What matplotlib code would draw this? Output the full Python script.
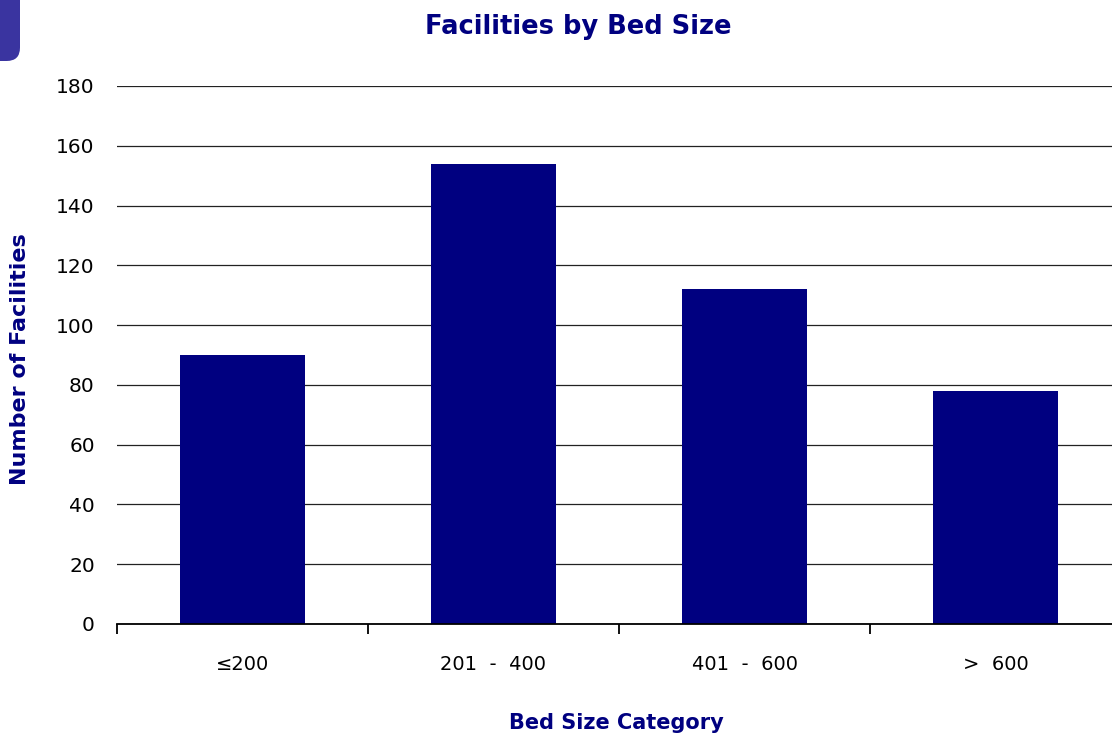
"""
Facilities by bed size: simple bar chart with navy bars.
"""

import matplotlib
matplotlib.use('Agg')
import matplotlib.pyplot as plt
from matplotlib.patches import FancyBboxPatch
from matplotlib.ticker import MultipleLocator, FixedLocator

CATEGORIES = ['\u2264200', '201  -  400', '401  -  600', '>  600']
FACILITIES = [90, 154, 112, 78]
Y_TICKS = list(range(0, 181, 20))
NAVY = '#000080'


def main():
    plt.rcParams['font.family'] = ['DejaVu Sans']
    fig = plt.figure(figsize=(11.12, 7.38), dpi=100)
    ax = fig.add_axes([117 / 1112, 0.1545, 1004 / 1112, 0.729])

    x = list(range(len(CATEGORIES)))
    ax.bar(x, FACILITIES, width=0.5, color=NAVY, zorder=3)

    ax.set_xlim(-0.5, len(CATEGORIES) - 0.5)
    ax.set_ylim(0, 180)
    ax.set_yticks(Y_TICKS)
    ax.yaxis.grid(True, color='#222222', linewidth=0.9, zorder=0)
    ax.tick_params(axis='y', length=0, pad=16, labelsize=14.5)

    # category boundaries as major ticks, labels on minor ticks
    ax.xaxis.set_major_locator(MultipleLocator(1, offset=0.5))
    ax.xaxis.set_major_formatter(plt.NullFormatter())
    ax.xaxis.set_minor_locator(FixedLocator(x))
    ax.set_xticklabels(CATEGORIES, minor=True)
    ax.tick_params(axis='x', which='major', length=7, width=1.3,
                   direction='out', color='black')
    ax.tick_params(axis='x', which='minor', length=0, pad=22, labelsize=14)

    for side in ['left', 'right', 'top']:
        ax.spines[side].set_visible(False)
    ax.spines['bottom'].set_linewidth(1.3)
    ax.spines['bottom'].set_zorder(4)

    fig.text(578 / 1112, 1 - 27 / 738, 'Facilities by Bed Size', ha='center',
             va='center', fontsize=18.5, fontweight='bold', color=NAVY)
    fig.text(616 / 1112, 1 - 723 / 738, 'Bed Size Category', ha='center',
             va='center', fontsize=15, fontweight='bold', color=NAVY)
    fig.text(20 / 1112, 1 - 359 / 738, 'Number of Facilities', ha='center',
             va='center', rotation=90, fontsize=16, fontweight='bold',
             color=NAVY)

    # purple tab in the top-left corner
    tab = FancyBboxPatch((-20 / 1112, 1 - 61 / 738), 40 / 1112, 80 / 738,
                         boxstyle='round,pad=0,rounding_size=0.012',
                         transform=fig.transFigure, facecolor='#3A34A0',
                         edgecolor='none', mutation_aspect=1112 / 738)
    fig.patches.append(tab)

    fig.savefig('out.png', dpi=100)
    plt.close()


if __name__ == '__main__':
    main()
